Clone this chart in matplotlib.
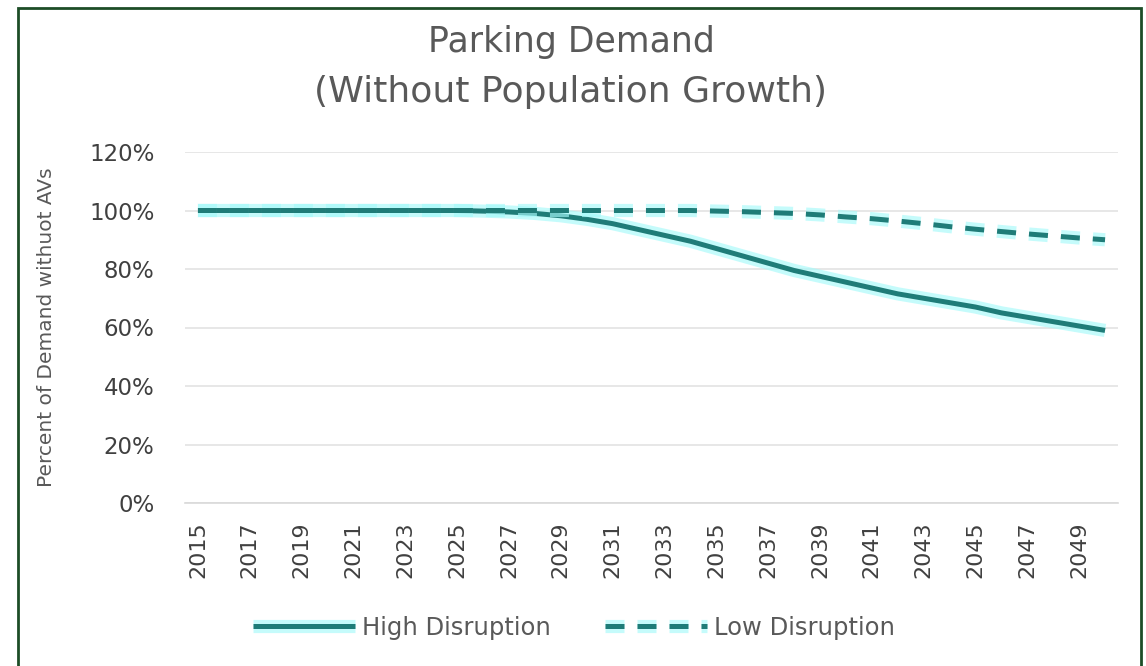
import matplotlib
matplotlib.use("Agg")
import matplotlib.pyplot as plt
import matplotlib.patheffects as pe
from matplotlib.patches import Rectangle
from matplotlib.ticker import FuncFormatter

years = list(range(2015, 2051))
high_disruption = [100, 100, 100, 100, 100, 100, 100, 100, 100, 100, 100,
                   99.8, 99.5, 99.0, 98.2, 97.0, 95.5, 93.5, 91.5, 89.5, 87.0,
                   84.5, 82.0, 79.5, 77.5, 75.5, 73.5, 71.5, 70.0, 68.5, 67.0,
                   65.0, 63.5, 62.0, 60.5, 59.0]
low_disruption = [100, 100, 100, 100, 100, 100, 100, 100, 100, 100, 100,
                  100, 100, 100, 100, 100, 100, 100, 100, 100, 99.8,
                  99.6, 99.3, 99.0, 98.5, 97.8, 97.2, 96.4, 95.5, 94.5, 93.6,
                  92.8, 92.0, 91.3, 90.6, 90.0]
tick_years = list(range(2015, 2050, 2))
y_ticks = [0, 20, 40, 60, 80, 100, 120]

line_color = "#1f7c78"
glow_color = "#a6fafa"
text_color = "#595959"

W, H = 1146, 666
fig = plt.figure(figsize=(W / 100, H / 100), dpi=100)
fig.patch.set_facecolor("white")

ax = fig.add_axes([185 / W, 1 - 503 / H, (1118 - 185) / W, (503 - 152) / H])
ax.set_xlim(2014.5, 2050.5)
ax.set_ylim(0, 120)

glow = [pe.Stroke(linewidth=9.5, foreground=glow_color, alpha=0.65), pe.Normal()]
ax.plot(years, high_disruption, color=line_color, lw=3.6,
        solid_capstyle="butt", path_effects=glow, label="High Disruption", zorder=3)
ax.plot(years, low_disruption, color=line_color, lw=3.6, dashes=(3.8, 2.6),
        dash_capstyle="butt", path_effects=glow, label="Low Disruption", zorder=3)

ax.set_yticks(y_ticks)
ax.yaxis.set_major_formatter(FuncFormatter(lambda v, p: f"{int(v)}%"))
ax.set_xticks(tick_years)
ax.set_xticklabels([str(y) for y in tick_years], rotation=90)
ax.grid(axis="y", color="#e3e3e3", lw=1.2)
ax.set_axisbelow(True)
for s in ["top", "right", "left"]:
    ax.spines[s].set_visible(False)
ax.spines["bottom"].set_color("#d9d9d9")
ax.spines["bottom"].set_linewidth(1.2)
ax.tick_params(axis="both", length=0, colors="#404040")
ax.tick_params(axis="y", pad=22, labelsize=16.5)
ax.tick_params(axis="x", pad=13, labelsize=16)

ax.set_ylabel("Percent of Demand withuot AVs", fontsize=14.5, color=text_color,
              labelpad=24)
fig.text(571 / W, 1 - 42 / H, "Parking Demand", ha="center", va="center",
         fontsize=25, color=text_color)
fig.text(571 / W, 1 - 92 / H, "(Without Population Growth)", ha="center", va="center",
         fontsize=26, color=text_color)

leg = ax.legend(loc="center", bbox_to_anchor=(574 / W, 1 - 628 / H),
                bbox_transform=fig.transFigure, ncol=2, frameon=False,
                fontsize=17.5, handlelength=4.2, handletextpad=0.3,
                columnspacing=2.2, labelcolor=text_color)

fig.patches.append(Rectangle((18 / W, -0.05), (1141 - 18) / W, 1.05 - 8 / H,
                             transform=fig.transFigure, fill=False,
                             edgecolor="#1d4d27", lw=2, zorder=10))

fig.savefig("out.png", dpi=100, facecolor="white")
